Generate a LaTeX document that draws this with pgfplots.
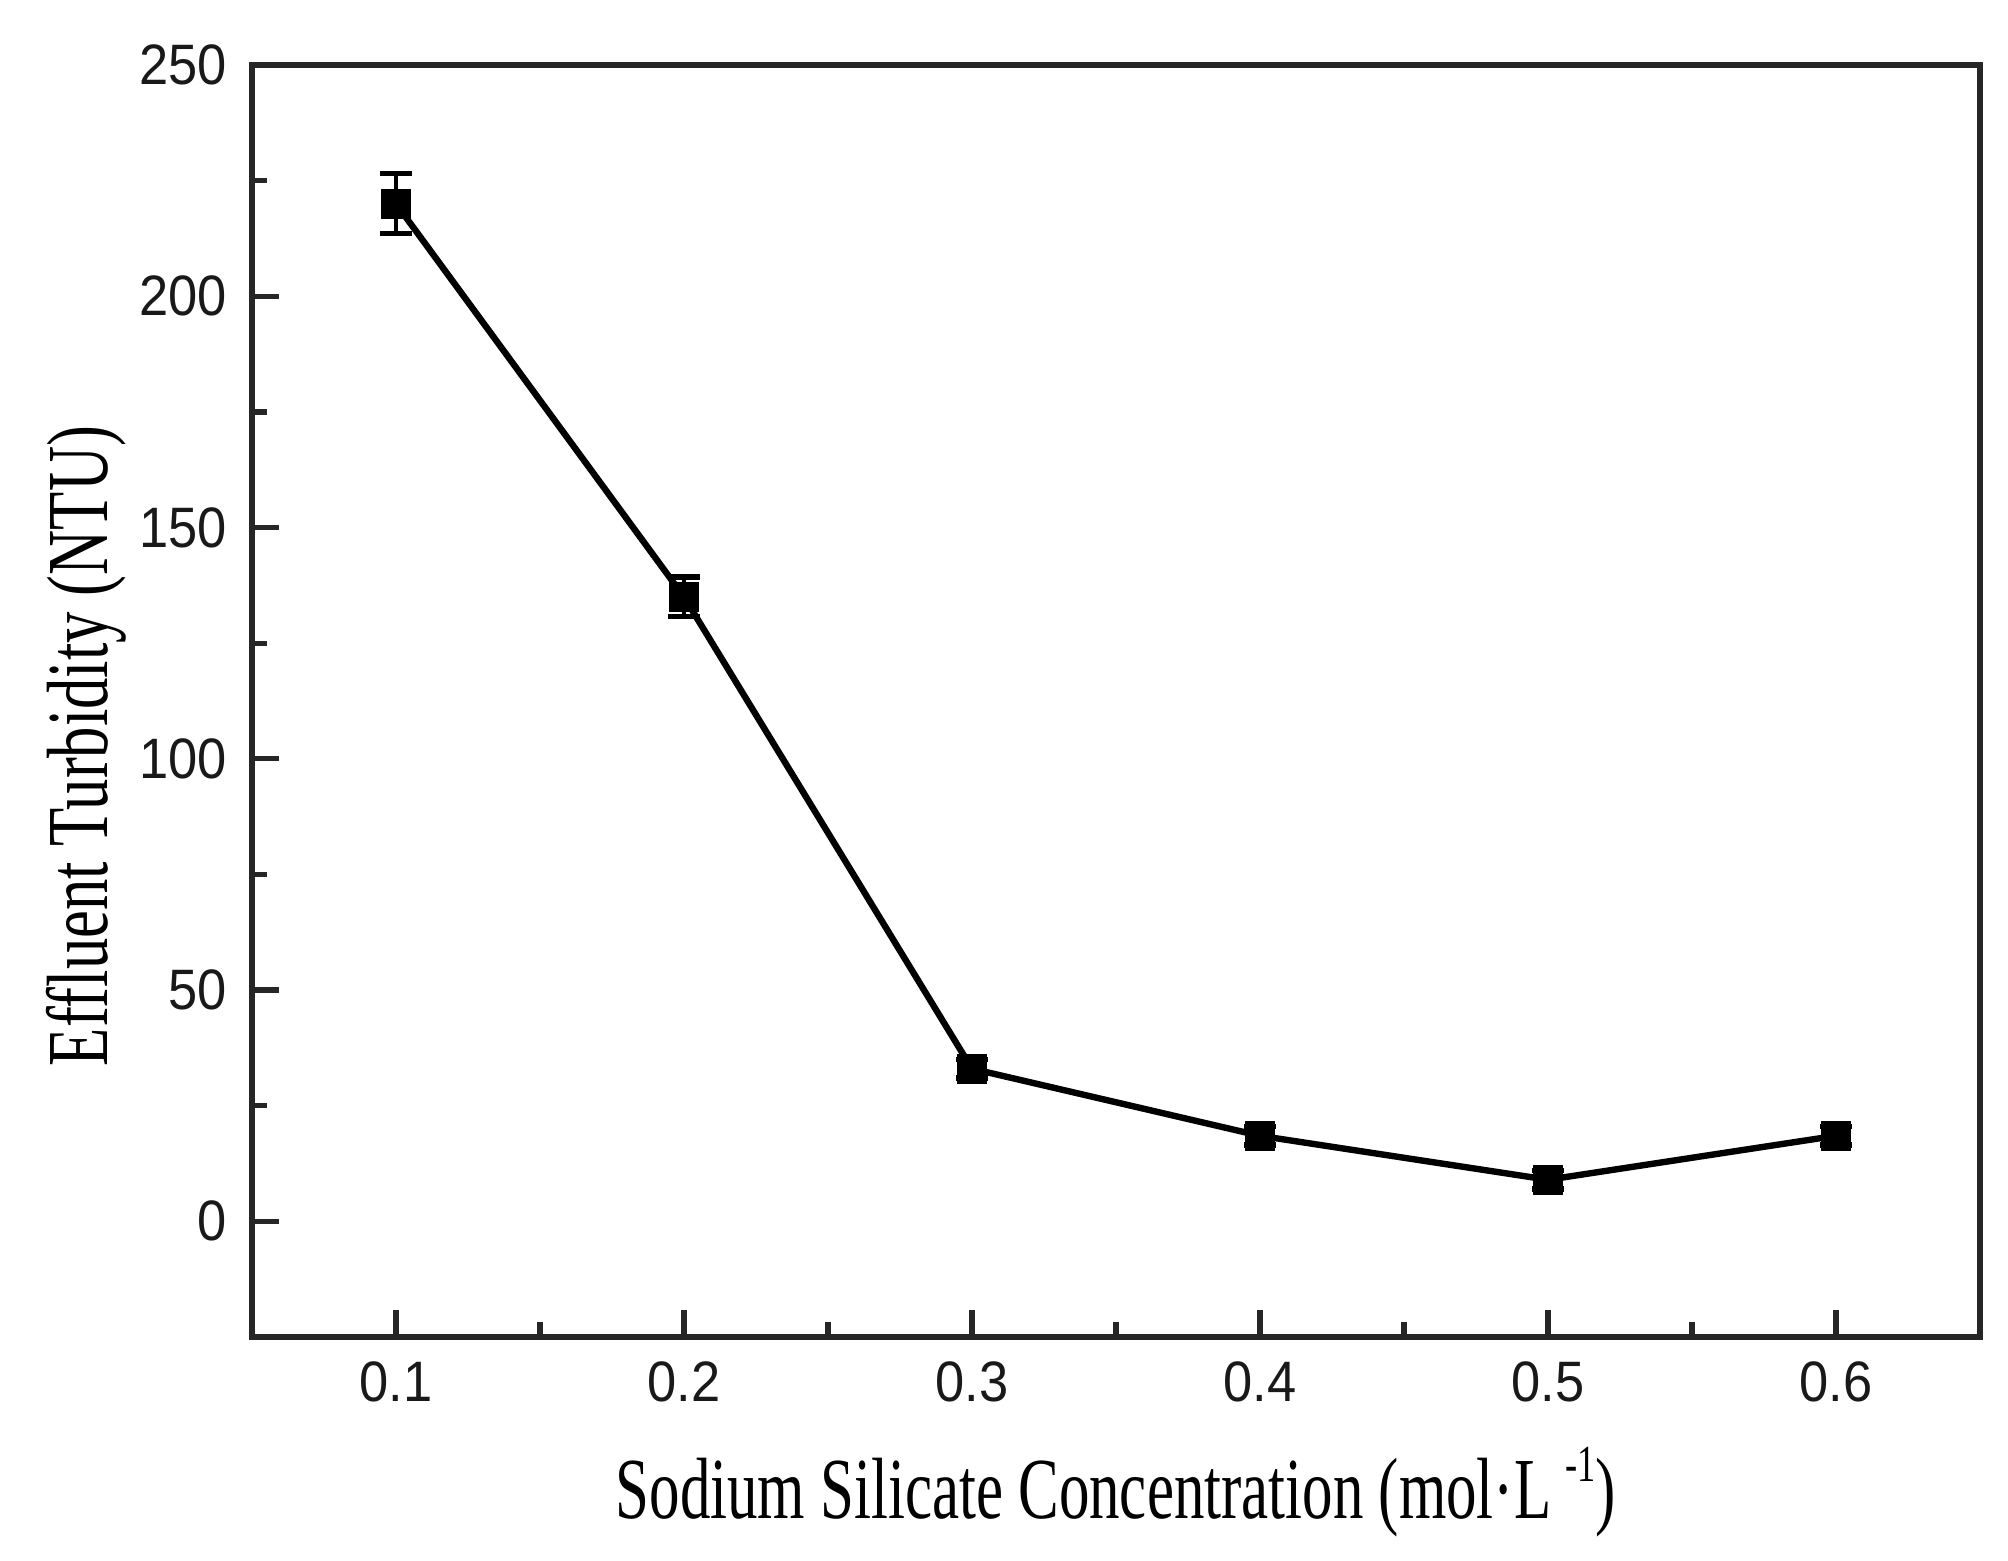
\documentclass[border=0pt]{standalone}
\usepackage{fontspec}
\setmainfont{Liberation Serif}
\newfontfamily\ticksf[FakeStretch=0.92]{Liberation Sans}
\newfontfamily\labelrm[FakeStretch=0.72]{Liberation Serif}
\newfontfamily\xlabelrm[FakeStretch=0.70]{Liberation Serif}
\usepackage{pgfplots}
\pgfplotsset{compat=1.18}
\begin{document}
\begin{tikzpicture}
\begin{axis}[
  width=864pt, height=636pt, scale only axis,
  at={(0,0)}, anchor=south west,
  xmin=0.05, xmax=0.65, ymin=-25, ymax=250,
  xtick={0.1,0.2,0.3,0.4,0.5,0.6},
  minor xtick={0.15,0.25,0.35,0.45,0.55},
  ytick={0,50,100,150,200,250},
  minor ytick={25,75,125,175,225},
  tick align=inside, tick pos=left,
  major tick length=13.5pt, minor tick length=7.5pt,
  axis line style={line width=2.6pt, black!85},
  every tick/.style={line width=2.6pt, black!85},
  /pgf/number format/assume math mode=true,
  ticklabel style={font=\ticksf\fontsize{28.5}{30}\selectfont, text=black!90},
  x tick label style={/pgf/number format/fixed, /pgf/number format/precision=1, yshift=-9pt},
  y tick label style={xshift=-9pt},
  xlabel={Sodium Silicate Concentration (mol\textperiodcentered L\,\raisebox{0.42em}{\fontsize{26}{28}\selectfont -1})},
  ylabel={Effluent Turbidity (NTU)},
  xlabel style={font=\xlabelrm\fontsize{43.5}{48}\selectfont, at={(axis description cs:0.5,-0.1423)}, anchor=base},
  ylabel style={font=\labelrm\fontsize{43.5}{48}\selectfont, at={(axis description cs:-0.0835,0.4646)}, rotate=0, anchor=base},
  clip=false,
]
\addplot[black, line width=3.2pt, mark=square*, mark size=7.25pt,
  mark options={solid, line width=0.5pt},
  error bars/.cd, y dir=both, y explicit,
  error bar style={line width=2.2pt, black},
  error mark options={line width=2.6pt, mark size=8pt, black, rotate=90}]
  coordinates {
  (0.1,220) +- (0,6.5)
  (0.2,135) +- (0,4.3)
  (0.3,33) +- (0,2)
  (0.4,18.5) +- (0,2)
  (0.5,9) +- (0,2)
  (0.6,18.5) +- (0,2)
  };
\end{axis}
\pgfresetboundingbox
\path[use as bounding box] (-126pt,-111.5pt) rectangle (878pt,668.5pt);
\end{tikzpicture}
\end{document}
